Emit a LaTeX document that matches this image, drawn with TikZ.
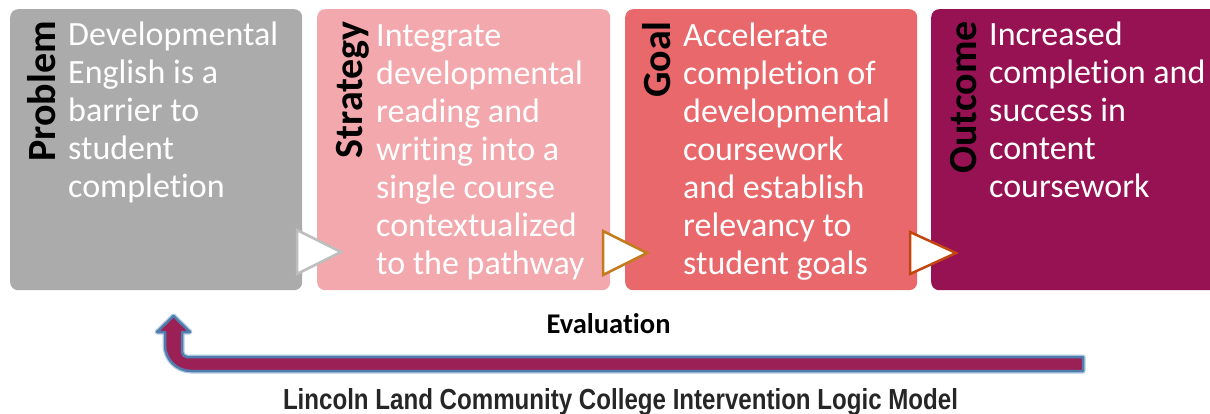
\documentclass[tikz,border=0pt]{standalone}
\usepackage{fontspec}
\usepackage{graphicx}
\setmainfont{Carlito}[Ligatures=NoCommon]
\newfontfamily\titlefont{Liberation Sans}
\definecolor{pgray}{HTML}{ABABAB}
\definecolor{ppink}{HTML}{F2A8AC}
\definecolor{pcoral}{HTML}{E9686C}
\definecolor{pmaroon}{HTML}{961253}
\definecolor{amaroon}{HTML}{9B2055}
\definecolor{ablue}{HTML}{4F7EAE}
\definecolor{aglow}{HTML}{B3CBE0}
\definecolor{tgray}{HTML}{BEBEBE}
\definecolor{torange}{HTML}{C27C1E}
\definecolor{trust}{HTML}{C4450E}
\begin{document}
\begin{tikzpicture}[x=1pt,y=1pt]
\useasboundingbox (0,0) rectangle (1210,-414);
\clip (0,0) rectangle (1210,-414);
\tikzset{
  panel/.style={rounded corners=8pt, draw=none, inner sep=0pt, anchor=north west, minimum height=281pt},
  body/.style={anchor=base west, inner sep=0pt, align=left, text=white, font=\fontsize{34}{38}\selectfont},
  tag/.style={rotate=90, anchor=base east, inner sep=0pt, font=\bfseries\fontsize{40}{44}\selectfont},
  chevron/.style={fill=white, line width=2.5pt, line join=miter}
}
% panels
\node[panel, fill=pgray, minimum width=292pt] (p1) at (10,-9) {};
\node[panel, fill=ppink, minimum width=293pt] (p2) at (317,-9) {};
\node[panel, fill=pcoral, minimum width=292pt] (p3) at (625,-9) {};
\node[panel, fill=pmaroon, minimum width=300pt] (p4) at (931,-9) {};
% vertical tags
\node[tag] (t1) at (55,-21) {Problem};
\node[tag] (t2) at (362,-21) {Strategy};
\node[tag] (t3) at (670,-21) {Goal};
\node[tag] (t4) at (976,-21) {Outcome};
% body texts (anchored at the baseline of the last line)
\node[body] (x1) at (68,-198) {Developmental\\English is a\\barrier to\\student\\completion};
\node[body] (x2) at (376,-274) {Integrate\\developmental\\reading and\\writing into a\\single course\\contextualized\\to the pathway};
\node[body] (x3) at (683,-274) {Accelerate\\completion of\\developmental\\coursework\\and establish\\relevancy to\\student goals};
\node[body] (x4) at (989,-198) {Increased\\completion and\\success in\\content\\coursework};
% chevrons
\draw[chevron, draw=tgray] (297,-230) -- (341,-252) -- (297,-274) -- cycle;
\draw[chevron, draw=torange] (603,-231) -- (647,-253) -- (603,-275) -- cycle;
\draw[chevron, draw=trust] (910,-232) -- (956,-253) -- (910,-274) -- cycle;
% evaluation arrow
\def\evalpath{(1083,-357) -- (187,-357) arc[start angle=270, end angle=180, radius=5] -- (182,-332) -- (190,-332) -- (173.5,-316) -- (157,-332) -- (165,-332) -- (165,-345) arc[start angle=180, end angle=270, radius=26] -- (1083,-371) -- cycle}
\draw[aglow, line width=5pt, line join=round] \evalpath;
\draw[ablue, fill=amaroon, line width=2.5pt, line join=round] \evalpath;
\node[anchor=base, inner sep=0pt, font=\bfseries\fontsize{28.5}{30}\selectfont] (eval) at (608.5,-333) {Evaluation};
\node[anchor=base, inner sep=0pt, text=black!85] (title) at (620.5,-409) {\resizebox{675pt}{\height}{\titlefont\bfseries\fontsize{29}{29}\selectfont Lincoln Land Community College Intervention Logic Model}};
\end{tikzpicture}
\end{document}
